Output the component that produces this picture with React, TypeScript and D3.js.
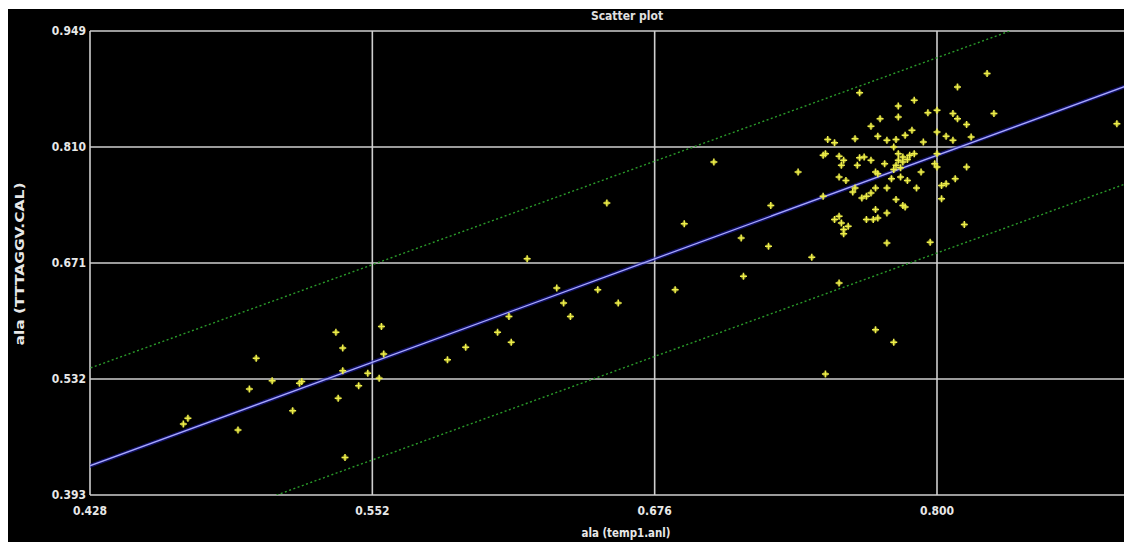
import React from "react";
import * as d3 from "d3";

// ala (temp1.anl) values
const alaTemp1 = [
  0.469, 0.471, 0.493, 0.498, 0.501, 0.508, 0.517, 0.52, 0.521, 0.536,
  0.539, 0.539, 0.537, 0.54, 0.546, 0.55, 0.555, 0.556, 0.557, 0.585,
  0.593, 0.607, 0.612, 0.613, 0.62, 0.633, 0.636, 0.639, 0.651, 0.655,
  0.66, 0.685, 0.689, 0.702, 0.714, 0.715, 0.726, 0.727, 0.739, 0.745,
  0.751, 0.757, 0.773, 0.781,
  0.766, 0.809, 0.822, 0.79, 0.783, 0.825, 0.796, 0.8, 0.807, 0.809,
  0.775, 0.783, 0.771, 0.813, 0.879, 0.789, 0.8, 0.786, 0.774, 0.752,
  0.764, 0.755, 0.778, 0.782, 0.794, 0.804, 0.807, 0.815, 0.781, 0.751,
  0.75, 0.757, 0.766, 0.768, 0.771, 0.777, 0.783, 0.785, 0.787, 0.788,
  0.783, 0.785, 0.79, 0.8, 0.759, 0.758, 0.765, 0.782, 0.784, 0.781,
  0.799, 0.8, 0.793, 0.813, 0.773, 0.774, 0.757, 0.76, 0.78, 0.784,
  0.787, 0.808, 0.804, 0.802, 0.764, 0.763, 0.773, 0.771, 0.778, 0.791,
  0.75, 0.767, 0.769, 0.782, 0.786, 0.785, 0.802, 0.773, 0.755, 0.757,
  0.758, 0.761, 0.759, 0.759, 0.769, 0.772, 0.774, 0.778, 0.812, 0.778,
  0.797,
];

// ala (TTTAGGV.CAL) values
const alaTTTAGGV = [
  0.478, 0.485, 0.471, 0.52, 0.557, 0.53, 0.494, 0.527, 0.529, 0.588,
  0.569, 0.542, 0.509, 0.438, 0.524, 0.539, 0.533, 0.595, 0.562, 0.555,
  0.57, 0.588, 0.607, 0.576, 0.676, 0.641, 0.623, 0.607, 0.639, 0.743,
  0.623, 0.639, 0.718, 0.792, 0.701, 0.655, 0.691, 0.74, 0.78, 0.678,
  0.538, 0.647, 0.591, 0.576,
  0.875, 0.882, 0.898, 0.866, 0.859, 0.85, 0.851, 0.854, 0.85, 0.844,
  0.844, 0.846, 0.835, 0.837, 0.838, 0.83, 0.828, 0.824, 0.823, 0.819,
  0.82, 0.815, 0.818, 0.819, 0.816, 0.823, 0.818, 0.822, 0.81, 0.802,
  0.8, 0.799, 0.797, 0.798, 0.794, 0.79, 0.794, 0.792, 0.795, 0.8,
  0.802, 0.798, 0.802, 0.802, 0.794, 0.788, 0.788, 0.788, 0.785, 0.783,
  0.79, 0.786, 0.78, 0.786, 0.78, 0.778, 0.774, 0.77, 0.772, 0.774,
  0.77, 0.772, 0.766, 0.764, 0.761, 0.756, 0.761, 0.755, 0.761, 0.761,
  0.751, 0.749, 0.751, 0.747, 0.738, 0.74, 0.748, 0.735, 0.723, 0.727,
  0.719, 0.715, 0.711, 0.706, 0.723, 0.723, 0.725, 0.731, 0.717, 0.695,
  0.696,
];

const xTicks = [0.428, 0.552, 0.676, 0.8];
const yTicks = [0.393, 0.532, 0.671, 0.81, 0.949];
const band = 0.117; // distance of the dotted limits from the y = x line

const W = 1124;
const H = 542;
const font = "'DejaVu Sans Condensed', 'DejaVu Sans', sans-serif";

export default function App() {
  // page coordinates; the group is shifted back by the svg offset
  const x = d3.scaleLinear().domain([0.428, 0.8]).range([90, 937]);
  const y = d3.scaleLinear().domain([0.393, 0.949]).range([495, 31]);
  const left = 90, right = W + 60, top = 31, bottom = 495;

  const xEnd = x.invert(right);
  const line = d3
    .line<[number, number]>()
    .x((d) => x(d[0]))
    .y((d) => y(d[1]));
  const diag = (off: number) =>
    line([
      [0.2, 0.2 + off],
      [xEnd + 0.1, xEnd + 0.1 + off],
    ]) as string;

  const points = alaTemp1.map((v, i) => [v, alaTTTAGGV[i]]);
  const gridColor = "#cfcfcf";

  return (
    <svg
      width={W + 60}
      height={H + 40}
      style={{ position: "fixed", left: 8, top: 9, display: "block", background: "#000" }}
    >
      <defs>
        <clipPath id="plot">
          <rect x={left} y={top} width={right - left} height={bottom - top} />
        </clipPath>
      </defs>
      <g transform="translate(-8,-9)">
        <rect x={0} y={0} width={W + 80} height={H + 60} fill="#000" />
        <text
          x={627}
          y={20}
          fill="#e0e0e0"
          fontFamily={font}
          fontWeight="bold"
          fontSize={12}
          textAnchor="middle"
        >
          Scatter plot
        </text>

        {/* grid */}
        {yTicks.map((t) => (
          <line
            key={"gy" + t}
            x1={left}
            x2={right}
            y1={y(t)}
            y2={y(t)}
            stroke={gridColor}
            strokeWidth={1.6}
          />
        ))}
        {xTicks.map((t) => (
          <line
            key={"gx" + t}
            x1={x(t)}
            x2={x(t)}
            y1={top}
            y2={bottom}
            stroke={gridColor}
            strokeWidth={1.6}
          />
        ))}

        {/* tick labels */}
        {yTicks.map((t) => (
          <text
            key={"ly" + t}
            x={86}
            y={y(t) + 4}
            fill="#e8e8e8"
            fontFamily={font}
            fontWeight="bold"
            fontSize={12}
            textAnchor="end"
          >
            {t.toFixed(3)}
          </text>
        ))}
        {xTicks.map((t) => (
          <text
            key={"lx" + t}
            x={x(t)}
            y={515}
            fill="#e8e8e8"
            fontFamily={font}
            fontWeight="bold"
            fontSize={12}
            textAnchor="middle"
          >
            {t.toFixed(3)}
          </text>
        ))}

        <text
          x={626}
          y={537}
          fill="#e8e8e8"
          fontFamily={font}
          fontWeight="bold"
          fontSize={12}
          textAnchor="middle"
          textLength={89}
          lengthAdjust="spacingAndGlyphs"
        >
          ala (temp1.anl)
        </text>
        <text
          transform="translate(24,264) rotate(-90)"
          fill="#e8e8e8"
          fontFamily={font}
          fontWeight="bold"
          fontSize={13}
          textAnchor="middle"
          textLength={163}
          lengthAdjust="spacingAndGlyphs"
        >
          ala (TTTAGGV.CAL)
        </text>

        <g clipPath="url(#plot)">
          {/* limits */}
          {[band, -band].map((o) => (
            <path
              key={"b" + o}
              d={diag(o)}
              fill="none"
              stroke="#2a9a2a"
              strokeWidth={1.4}
              strokeDasharray="2,2.5"
            />
          ))}
          {/* identity line */}
          <path d={diag(0)} fill="none" stroke="#1c1ca8" strokeWidth={4} opacity={0.6} />
          <path d={diag(0)} fill="none" stroke="#a8a8ff" strokeWidth={1.3} />

          {/* points */}
          {points.map((d, i) => (
            <g key={i} transform={`translate(${x(d[0])},${y(d[1])})`}>
              <circle r={2.6} fill="#c8c832" opacity={0.55} />
              <path d="M-3.5,0H3.5M0,-3.5V3.5" stroke="#eded4a" strokeWidth={1.5} />
            </g>
          ))}
        </g>
      </g>
    </svg>
  );
}
